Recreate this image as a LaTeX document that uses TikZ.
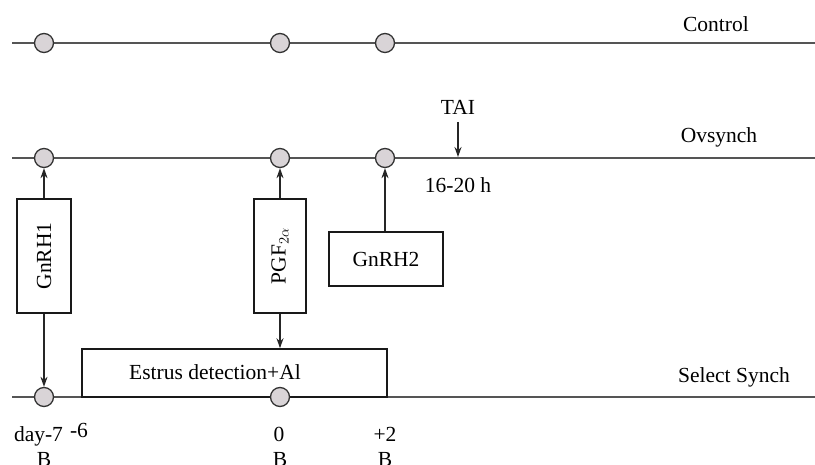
\documentclass[tikz,border=0pt]{standalone}
\usepackage{fontspec}
\setmainfont{Liberation Serif}
\usetikzlibrary{arrows.meta}
\definecolor{linegray}{HTML}{555555}
\definecolor{dotfill}{HTML}{D9D4D7}
\newcommand{\lblfont}{\fontsize{21.5}{25}\selectfont}
\tikzset{
  tl/.style={draw=linegray, line width=2pt},
  dot/.style={circle, draw=black!80, fill=dotfill, line width=1.3pt, minimum size=19pt, inner sep=0pt},
  box/.style={draw=black!90, line width=1.6pt, fill=white, inner sep=0pt},
  arr/.style={-{Stealth[length=10pt,width=7pt]}, line width=1.7pt, black!85},
  lbl/.style={font=\lblfont, inner sep=0pt, anchor=base},
}
\begin{document}
\begin{tikzpicture}[x=1pt,y=-1pt]
\useasboundingbox (0,0) rectangle (815,465);
% timelines
\draw[tl] (12,43) -- (815,43);
\draw[tl] (12,158) -- (815,158);
\draw[tl] (12,397) -- (815,397);
% estrus box (on the line)
\node[box, minimum width=305pt, minimum height=48pt] (est) at (234.5,373) {};
\node[lbl] (estt) at (215,380) {Estrus detection+Al};
% dots
\node[dot] (c1) at (44,43) {};
\node[dot] (c2) at (280,43) {};
\node[dot] (c3) at (385,43) {};
\node[dot] (o1) at (44,158) {};
\node[dot] (o2) at (280,158) {};
\node[dot] (o3) at (385,158) {};
\node[dot] (s1) at (44,397) {};
\node[dot] (s2) at (280,397) {};
% boxes
\node[box, minimum width=54pt, minimum height=114pt] (g1) at (44,256) {\rotatebox{90}{\lblfont GnRH1}};
\node[box, minimum width=52pt, minimum height=114pt] (pgf) at (280,256) {\rotatebox{90}{\lblfont PGF$_{2\alpha}$}};
\node[box, minimum width=114pt, minimum height=54pt] (g2) at (386,259) {\lblfont GnRH2};
% arrows
\draw[arr] (g1.north) -- (o1.south);
\draw[arr] (g1.south) -- (s1.north);
\draw[arr] (pgf.north) -- (o2.south);
\draw[arr] (pgf.south) -- (est.north -| pgf.south);
\draw[arr] (g2.north -| o3) -- (o3.south);
% TAI
\node[lbl] (tai) at (458,115) {TAI};
\coordinate (taiend) at (458,157);
\draw[arr] (tai.south |- 0,122) -- (taiend);
\node[lbl] (h) at (458,193) {16-20 h};
% line labels
\node[lbl] (ctl) at (716,32) {Control};
\node[lbl] (ovs) at (719,143) {Ovsynch};
\node[lbl] (sel) at (734,383) {Select Synch};
% day labels
\node[lbl] (d7) at (38.5,442) {day-7};
\node[lbl] (d6) at (79,437) {-6};
\node[lbl] (d0) at (279,442) {0};
\node[lbl] (d2) at (385,442) {+2};
\node[lbl] (b1) at (44,467) {B};
\node[lbl] (b2) at (280,467) {B};
\node[lbl] (b3) at (385,467) {B};
\end{tikzpicture}
\end{document}
